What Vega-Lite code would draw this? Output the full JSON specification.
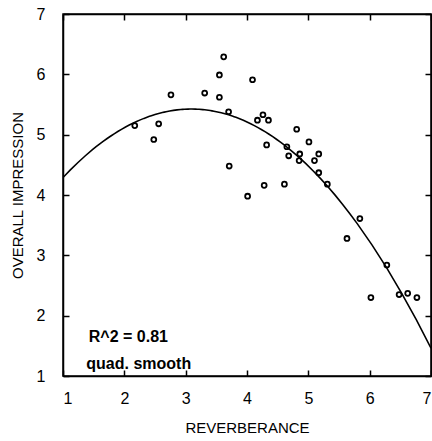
{
  "$schema": "https://vega.github.io/schema/vega-lite/v6.json",
  "autosize": {"type": "none"},
  "padding": {"left": 63, "top": 14, "right": 1, "bottom": 65},
  "width": 368,
  "height": 362,
  "background": "white",
  "config": {
    "view": {"stroke": "black", "strokeWidth": 1.5},
    "axis": {
      "grid": false,
      "domainColor": "black",
      "domainWidth": 1.5,
      "tickColor": "black",
      "tickWidth": 1.5,
      "tickSize": -6,
      "labelFont": "Liberation Sans",
      "labelFontSize": 16,
      "labelColor": "black",
      "titleFont": "Liberation Sans",
      "titleFontSize": 15,
      "titleFontWeight": "normal",
      "titleColor": "black"
    }
  },
  "datasets": {
    "pts": [
      {"reverb": 2.17, "overall": 5.15}, {"reverb": 2.48, "overall": 4.92}, {"reverb": 2.56, "overall": 5.18},
      {"reverb": 2.76, "overall": 5.66}, {"reverb": 3.31, "overall": 5.69}, {"reverb": 3.55, "overall": 5.99},
      {"reverb": 3.55, "overall": 5.62}, {"reverb": 3.62, "overall": 6.29}, {"reverb": 3.70, "overall": 5.38},
      {"reverb": 3.71, "overall": 4.48}, {"reverb": 4.01, "overall": 3.98}, {"reverb": 4.09, "overall": 5.91},
      {"reverb": 4.17, "overall": 5.24}, {"reverb": 4.26, "overall": 5.33}, {"reverb": 4.28, "overall": 4.16},
      {"reverb": 4.32, "overall": 4.83}, {"reverb": 4.35, "overall": 5.24}, {"reverb": 4.61, "overall": 4.18},
      {"reverb": 4.65, "overall": 4.80}, {"reverb": 4.68, "overall": 4.65}, {"reverb": 4.81, "overall": 5.09},
      {"reverb": 4.85, "overall": 4.57}, {"reverb": 4.86, "overall": 4.68}, {"reverb": 5.01, "overall": 4.88},
      {"reverb": 5.10, "overall": 4.57}, {"reverb": 5.17, "overall": 4.68}, {"reverb": 5.17, "overall": 4.37},
      {"reverb": 5.31, "overall": 4.18}, {"reverb": 5.63, "overall": 3.28}, {"reverb": 5.84, "overall": 3.61},
      {"reverb": 6.02, "overall": 2.30}, {"reverb": 6.28, "overall": 2.84}, {"reverb": 6.48, "overall": 2.35},
      {"reverb": 6.62, "overall": 2.37}, {"reverb": 6.77, "overall": 2.30}
    ],
    "notes": [
      {"reverb": 1.42, "overall": 1.57, "label": "R^2 = 0.81"},
      {"reverb": 1.38, "overall": 1.11, "label": "quad. smooth"}
    ]
  },
  "layer": [
    {
      "data": {"name": "pts"},
      "mark": {"type": "point", "shape": "circle", "filled": false, "color": "black", "size": 24, "strokeWidth": 1.8, "opacity": 1},
      "encoding": {
        "x": {"field": "reverb", "type": "quantitative", "scale": {"domain": [1, 7], "nice": false, "zero": false},
              "axis": {"orient": "bottom", "title": "REVERBERANCE", "values": [1,2,3,4,5,6,7], "labelPadding": 20, "titlePadding": 14}},
        "y": {"field": "overall", "type": "quantitative", "scale": {"domain": [1, 7], "nice": false, "zero": false},
              "axis": {"orient": "left", "title": "OVERALL IMPRESSION", "values": [1,2,3,4,5,6,7], "labelPadding": 24, "titlePadding": 11}}
      }
    },
    {
      "data": {"name": "pts"},
      "transform": [{"regression": "overall", "on": "reverb", "method": "poly", "order": 2, "extent": [1, 7]}],
      "mark": {"type": "line", "color": "black", "strokeWidth": 1.6, "clip": true},
      "encoding": {
        "x": {"field": "reverb", "type": "quantitative", "scale": {"domain": [1, 7], "nice": false, "zero": false},
              "axis": {"orient": "top", "title": null, "labels": false, "values": [1,2,3,4,5,6,7]}},
        "y": {"field": "overall", "type": "quantitative", "scale": {"domain": [1, 7], "nice": false, "zero": false},
              "axis": {"orient": "right", "title": null, "labels": false, "values": [1,2,3,4,5,6,7]}}
      }
    },
    {
      "data": {"name": "notes"},
      "mark": {"type": "text", "align": "left", "baseline": "alphabetic", "font": "Liberation Sans", "fontWeight": "bold", "fontSize": 16, "color": "black"},
      "encoding": {
        "x": {"field": "reverb", "type": "quantitative", "axis": null},
        "y": {"field": "overall", "type": "quantitative", "axis": null},
        "text": {"field": "label"}
      }
    }
  ],
  "resolve": {"axis": {"x": "independent", "y": "independent"}}
}
